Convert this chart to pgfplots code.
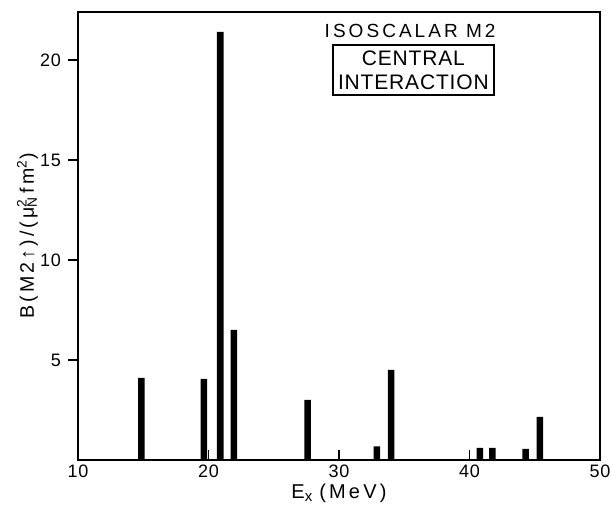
\documentclass[border=0pt]{standalone}
\usepackage{pgfplots}
\pgfplotsset{compat=1.18}
\usepackage{fontspec}
\setmainfont{Liberation Sans}
\newfontfamily\spaced{Liberation Sans}[LetterSpace=16]
\newfontfamily\spacedb{Liberation Sans}[LetterSpace=4]
\begin{document}
\begin{tikzpicture}
\begin{axis}[
    name=ax,
    scale only axis, width=261pt, height=224pt,
    xmin=10, xmax=50, ymin=0, ymax=22.4,
    xtick={10,20,30,40,50}, ytick={5,10,15,20},
    tick pos=left,
    xtick align=inside, ytick align=outside,
    major tick length=5pt,
    axis line style={line width=0.9pt},
    tick style={line width=0.7pt, black},
    /pgf/number format/assume math mode=true,
    tick label style={font=\fontsize{9}{10}\selectfont\spacedb},
    xticklabel style={yshift=1pt},
    xlabel={E\textsubscript{\fontsize{7.5}{8}\selectfont x}\hspace{3pt}(MeV)},
    ylabel={B(M2↑)/(μ\rlap{\textsuperscript{2}}\textsubscript{N}\,fm\textsuperscript{2})},
    xlabel style={font=\fontsize{10}{11}\selectfont\spaced,
                  at={(axis description cs:0.5,0)}, anchor=base, yshift=-19.5pt},
    ylabel style={font=\fontsize{9.8}{11}\selectfont\spaced,
                  at={(axis description cs:0,0.5)}, anchor=base, yshift=22pt},
    clip=false,
]
\addplot[ybar, bar width=0.5, fill=black, draw=none] coordinates {
  (14.85,4.1) (19.65,4.05) (20.9,21.4) (21.95,6.5) (27.6,3.0)
  (32.9,0.68) (34.0,4.5) (40.8,0.6) (41.75,0.6) (44.3,0.55) (45.4,2.15)
};
\node[font=\fontsize{9.5}{10}\selectfont\spaced] at (axis cs:35.45,21.46) {ISOSCALAR M2};
\node[draw, line width=0.7pt, align=center, inner sep=0pt,
      minimum width=80.5pt, minimum height=25pt,
      font=\fontsize{10.5}{12}\selectfont\spacedb] at (axis cs:35.7,19.5) {CENTRAL\\INTERACTION};
\end{axis}
\pgfresetboundingbox
\path[use as bounding box] ([shift={(-39pt,-23pt)}]ax.south west) rectangle ([shift={(5.5pt,6pt)}]ax.north east);
\end{tikzpicture}
\end{document}
